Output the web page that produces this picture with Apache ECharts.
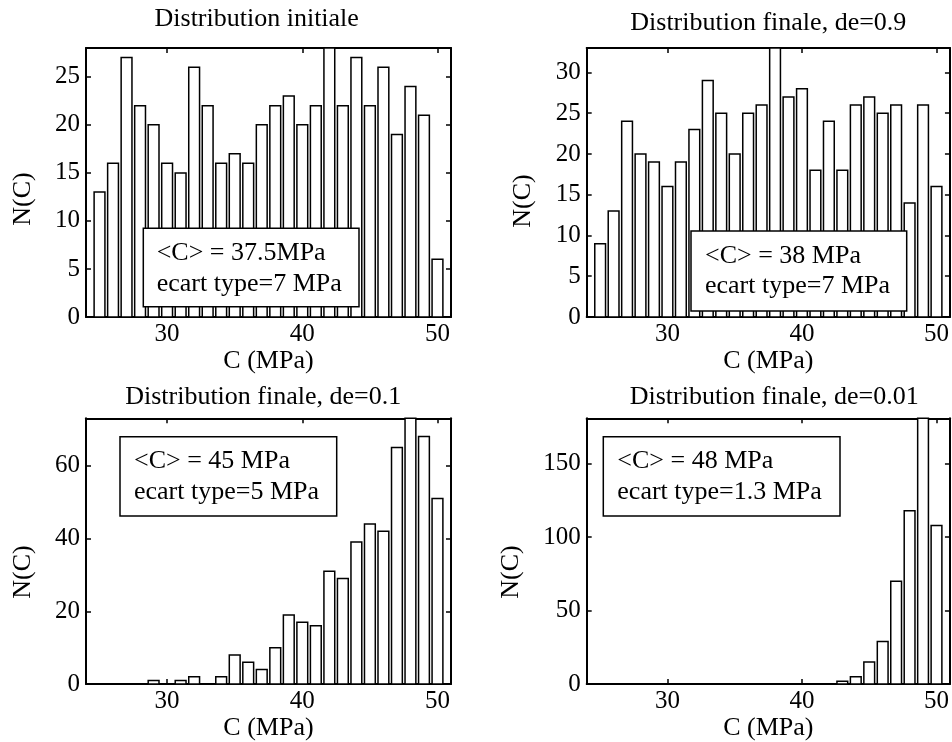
<!DOCTYPE html>
<html>
<head>
<meta charset="utf-8">
<script src="https://cdn.jsdelivr.net/npm/echarts@6/dist/echarts.min.js"></script>
<style>
html,body{margin:0;padding:0;background:#fff;}
#chart{width:952px;height:742px;}
</style>
</head>
<body>
<div id="chart"></div>
<script>
// ---- data ----
const bins = [25,26,27,28,29,30,31,32,33,34,35,36,37,38,39,40,41,42,43,44,45,46,47,48,49,50];
const nInitiale = [13,16,27,22,20,16,15,26,22,16,17,16,20,22,23,20,22,28,22,27,22,26,19,24,21,6];
const nDe09 = [9,13,24,20,19,16,19,23,29,25,20,25,26,33,27,28,18,24,18,26,27,25,26,14,26,16];
const nDe01 = [0,0,0,0,1,0,1,2,0,2,8,6,4,10,19,17,16,31,29,39,44,42,65,73,68,51];
const nDe001 = [0,0,0,0,0,0,0,0,0,0,0,0,0,0,0,0,0,0,2,5,15,29,70,118,181,108];
const titles = ['Distribution initiale','Distribution finale, de=0.9','Distribution finale, de=0.1','Distribution finale, de=0.01'];
const boxLine1 = ['<C> = 37.5MPa','<C> = 38 MPa','<C> = 45 MPa','<C> = 48 MPa'];
const boxLine2 = ['ecart type=7 MPa','ecart type=7 MPa','ecart type=5 MPa','ecart type=1.3 MPa'];
const xTicks = [30,40,50];
const yTicks1 = [0,5,10,15,20,25];
const yTicks2 = [0,5,10,15,20,25,30];
const yTicks3 = [0,20,40,60];
const yTicks4 = [0,50,100,150];
const xMin = 24, xMax = 51;
const yMax = [28,33,73,181];
const xName = 'C (MPa)';
const yName = 'N(C)';

// ---- layout ----
const FONT = 'Liberation Serif';
const series = [nInitiale, nDe09, nDe01, nDe001];
const yTicks = [yTicks1, yTicks2, yTicks3, yTicks4];
const grids = [
  {left:86, top:48, width:365, height:269},
  {left:586.7, top:48, width:364.3, height:269},
  {left:86, top:418.3, width:365, height:269.2},
  {left:586.7, top:418.3, width:364.3, height:269.2}
];
const xNameGap = [24, 24, 25, 25];
const titlePos = [[256.7,19.5],[768.3,23.5],[263.2,397.5],[774.2,397.5]];
const yNamePos = [[23.5,199],[523.5,201],[23.5,572],[511.5,572]];
const boxes = [
  {x:143.3, y:228.3, w:215.7, h:78.4, tx:156.7, l1:253, l2:284.5},
  {x:691, y:231, w:215.7, h:80, tx:705, l1:256, l2:286},
  {x:120, y:436.7, w:216.7, h:79.3, tx:134, l1:461, l2:492.5},
  {x:603.3, y:436.7, w:236.7, h:79.3, tx:617.3, l1:461, l2:492.5}
];

const axisLineStyle = {color:'#000', width:2};
const tickStyle = {color:'#000', width:1.5};
const xAxes = [], yAxes = [], seriesOpt = [], graphics = [];

grids.forEach((g, i) => {
  xAxes.push({
    gridIndex:i, type:'value', min:xMin, max:xMax, position:'bottom',
    axisLine:{show:true, onZero:false, lineStyle:axisLineStyle},
    axisTick:{show:true, inside:true, length:5, customValues:xTicks, lineStyle:tickStyle},
    axisLabel:{show:true, customValues:xTicks, color:'#000', fontFamily:FONT, fontSize:25, margin:5},
    splitLine:{show:false},
    name:xName, nameLocation:'middle', nameGap:xNameGap[i],
    nameTextStyle:{color:'#000', fontFamily:FONT, fontSize:26}
  });
  xAxes.push({
    gridIndex:i, type:'value', min:xMin, max:xMax, position:'top',
    axisLine:{show:true, onZero:false, lineStyle:axisLineStyle},
    axisTick:{show:true, inside:true, length:5, customValues:xTicks, lineStyle:tickStyle},
    axisLabel:{show:false},
    splitLine:{show:false}
  });
  yAxes.push({
    gridIndex:i, type:'value', min:0, max:yMax[i], position:'left',
    axisLine:{show:true, onZero:false, lineStyle:axisLineStyle},
    axisTick:{show:true, inside:true, length:5, customValues:yTicks[i], lineStyle:tickStyle},
    axisLabel:{show:true, customValues:yTicks[i], color:'#000', fontFamily:FONT, fontSize:25, margin:6},
    splitLine:{show:false}
  });
  yAxes.push({
    gridIndex:i, type:'value', min:0, max:yMax[i], position:'right',
    axisLine:{show:true, onZero:false, lineStyle:axisLineStyle},
    axisTick:{show:true, inside:true, length:5, customValues:yTicks[i], lineStyle:tickStyle},
    axisLabel:{show:false},
    splitLine:{show:false}
  });
  seriesOpt.push({
    type:'custom',
    xAxisIndex:2*i, yAxisIndex:2*i,
    data: bins.map((b, k) => [b, series[i][k]]),
    renderItem: function (params, api) {
      const x = api.value(0), y = api.value(1);
      if (!y) return null;
      const p0 = api.coord([x - 0.4, 0]);
      const p1 = api.coord([x + 0.4, y]);
      const cs = params.coordSys;
      const rect = echarts.graphic.clipRectByRect(
        {x:p0[0], y:p1[1], width:p1[0]-p0[0], height:p0[1]-p1[1]},
        {x:cs.x, y:cs.y, width:cs.width, height:cs.height}
      );
      if (!rect) return null;
      return {type:'rect', shape:rect, style:{fill:'#fff', stroke:'#000', lineWidth:1.5}};
    },
    z:2
  });
  graphics.push({
    type:'text', x:titlePos[i][0], y:titlePos[i][1], z:100,
    style:{text:titles[i], font:'26px "Liberation Serif"', fill:'#000', align:'center', verticalAlign:'middle', textAlign:'center', textVerticalAlign:'middle'}
  });
  graphics.push({
    type:'text', x:yNamePos[i][0], y:yNamePos[i][1], rotation:Math.PI/2, z:100,
    style:{text:yName, font:'26px "Liberation Serif"', fill:'#000', align:'center', verticalAlign:'middle', textAlign:'center', textVerticalAlign:'middle'}
  });
  const b = boxes[i];
  graphics.push({
    type:'rect', z:100, shape:{x:b.x, y:b.y, width:b.w, height:b.h},
    style:{fill:'#fff', stroke:'#000', lineWidth:1.5}
  });
  graphics.push({
    type:'text', x:b.tx, y:b.l1, z:101,
    style:{text:boxLine1[i], font:'26px "Liberation Serif"', fill:'#000', align:'left', verticalAlign:'middle', textAlign:'left', textVerticalAlign:'middle'}
  });
  graphics.push({
    type:'text', x:b.tx, y:b.l2, z:101,
    style:{text:boxLine2[i], font:'26px "Liberation Serif"', fill:'#000', align:'left', verticalAlign:'middle', textAlign:'left', textVerticalAlign:'middle'}
  });
});

const chart = echarts.init(document.getElementById('chart'), null, {renderer:'canvas'});
chart.setOption({
  backgroundColor:'#fff',
  animation:false,
  grid: grids.map(g => Object.assign({containLabel:false}, g)),
  xAxis: xAxes,
  yAxis: yAxes,
  series: seriesOpt,
  graphic: graphics
});
</script>
</body>
</html>
